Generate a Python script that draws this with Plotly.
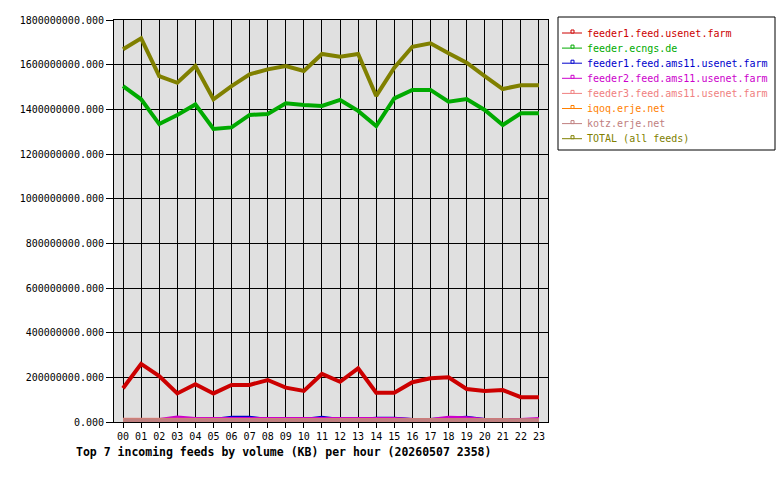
import plotly.graph_objects as go

hours = [f"{h:02d}" for h in range(24)]

names = ["feeder1.feed.usenet.farm", "feeder.ecngs.de", "feeder1.feed.ams11.usenet.farm",
         "feeder2.feed.ams11.usenet.farm", "feeder3.feed.ams11.usenet.farm",
         "iqoq.erje.net", "kotz.erje.net", "TOTAL (all feeds)"]
colors = ["#cc0000", "#00aa00", "#0000cc", "#cc00cc", "#f08080", "#ff8000", "#c08080", "#808000"]

feeder1_usenet = [151e6, 260e6, 206e6, 128e6, 169e6, 128e6, 166e6, 166e6, 188e6, 154e6, 139e6, 215e6,
                  180e6, 240e6, 131e6, 131e6, 178e6, 196e6, 200e6, 148e6, 139e6, 143e6, 111e6, 111e6]
ecngs = [1504e6, 1445e6, 1334e6, 1375e6, 1422e6, 1312e6, 1319e6, 1375e6, 1379e6, 1427e6, 1419e6, 1415e6,
         1442e6, 1393e6, 1325e6, 1449e6, 1487e6, 1487e6, 1434e6, 1446e6, 1397e6, 1330e6, 1382e6, 1382e6]
ams11_1 = [12e6, 12e6, 12e6, 12e6, 12e6, 12e6, 22e6, 22e6, 12e6, 12e6, 12e6, 22e6,
           12e6, 12e6, 18e6, 18e6, 12e6, 12e6, 18e6, 22e6, 12e6, 12e6, 12e6, 12e6]
ams11_2 = [12e6, 12e6, 12e6, 24e6, 17e6, 17e6, 17e6, 17e6, 17e6, 17e6, 17e6, 17e6,
           17e6, 17e6, 17e6, 17e6, 12e6, 12e6, 22e6, 20e6, 12e6, 12e6, 12e6, 17e6]
ams11_3 = [10e6] * 3 + [8e6] * 21
iqoq = [6e6] * 24
kotz = [8e6] * 24
total = [1669e6, 1718e6, 1549e6, 1519e6, 1594e6, 1445e6, 1504e6, 1557e6, 1579e6, 1594e6, 1572e6, 1648e6,
         1636e6, 1648e6, 1460e6, 1586e6, 1680e6, 1696e6, 1651e6, 1609e6, 1549e6, 1491e6, 1508e6, 1508e6]

series = [feeder1_usenet, ecngs, ams11_1, ams11_2, ams11_3, iqoq, kotz, total]
yticks = [i * 200e6 for i in range(10)]
title = "Top 7 incoming feeds by volume (KB) per hour (20260507 2358)"

W, H = 780, 480
L, R, T, B = 114, 548, 20, 422

def px(x):
    return (x - L) / (R - L)

def py(y):
    return (B - y) / (B - T)

fig = go.Figure()
widths = [4, 4, 2.5, 2.5, 4, 4, 4, 4]
for i in range(8):
    fig.add_trace(go.Scatter(x=list(range(24)), y=series[i], mode="lines", name=names[i],
                             line=dict(color=colors[i], width=widths[i]), showlegend=False))

shapes = [dict(type="rect", xref="paper", yref="paper", x0=px(558), x1=px(775), y0=py(150), y1=py(17),
               line=dict(color="black", width=1), fillcolor="white")]
annotations = []
for k, (n, c) in enumerate(zip(names, colors)):
    yy = 33 + k * 15.1
    shapes.append(dict(type="line", xref="paper", yref="paper", x0=px(562), x1=px(582), y0=py(yy), y1=py(yy),
                       line=dict(color=c, width=1)))
    shapes.append(dict(type="rect", xref="paper", yref="paper", x0=px(571), x1=px(574), y0=py(yy), y1=py(yy - 3),
                       line=dict(color=c, width=1), fillcolor="white"))
    annotations.append(dict(xref="paper", yref="paper", x=px(585), y=py(yy), xanchor="left", yanchor="middle",
                            text=n, showarrow=False, font=dict(family="DejaVu Sans Mono", size=10, color=c)))
annotations.append(dict(xref="paper", yref="paper", x=px(74), y=py(452), xanchor="left", yanchor="middle",
                        text="<b>" + title + "</b>", showarrow=False,
                        font=dict(family="DejaVu Sans Mono", size=11.5, color="black")))

fig.update_layout(
    width=W, height=H, margin=dict(l=L, r=W - R, t=T, b=H - B),
    paper_bgcolor="white", plot_bgcolor="#e0e0e0",
    font=dict(family="DejaVu Sans Mono", size=10, color="black"),
    shapes=shapes, annotations=annotations, showlegend=False,
    xaxis=dict(range=[-0.5, 23.5], tickmode="array", tickvals=list(range(24)), ticktext=hours,
               showgrid=True, gridcolor="black", gridwidth=1, showline=True, linecolor="black",
               linewidth=1, mirror=True, ticks="outside", ticklen=5, tickcolor="black", zeroline=False,
               tickfont=dict(size=10)),
    yaxis=dict(range=[0, 1.8e9], tickmode="array", tickvals=yticks,
               ticktext=[f"{v:.3f}" for v in yticks],
               showgrid=True, gridcolor="black", gridwidth=1, showline=True, linecolor="black",
               linewidth=1, mirror=True, ticks="outside", ticklen=7, tickcolor="black", zeroline=False,
               tickfont=dict(size=10)),
)
fig.write_html("out.html")
